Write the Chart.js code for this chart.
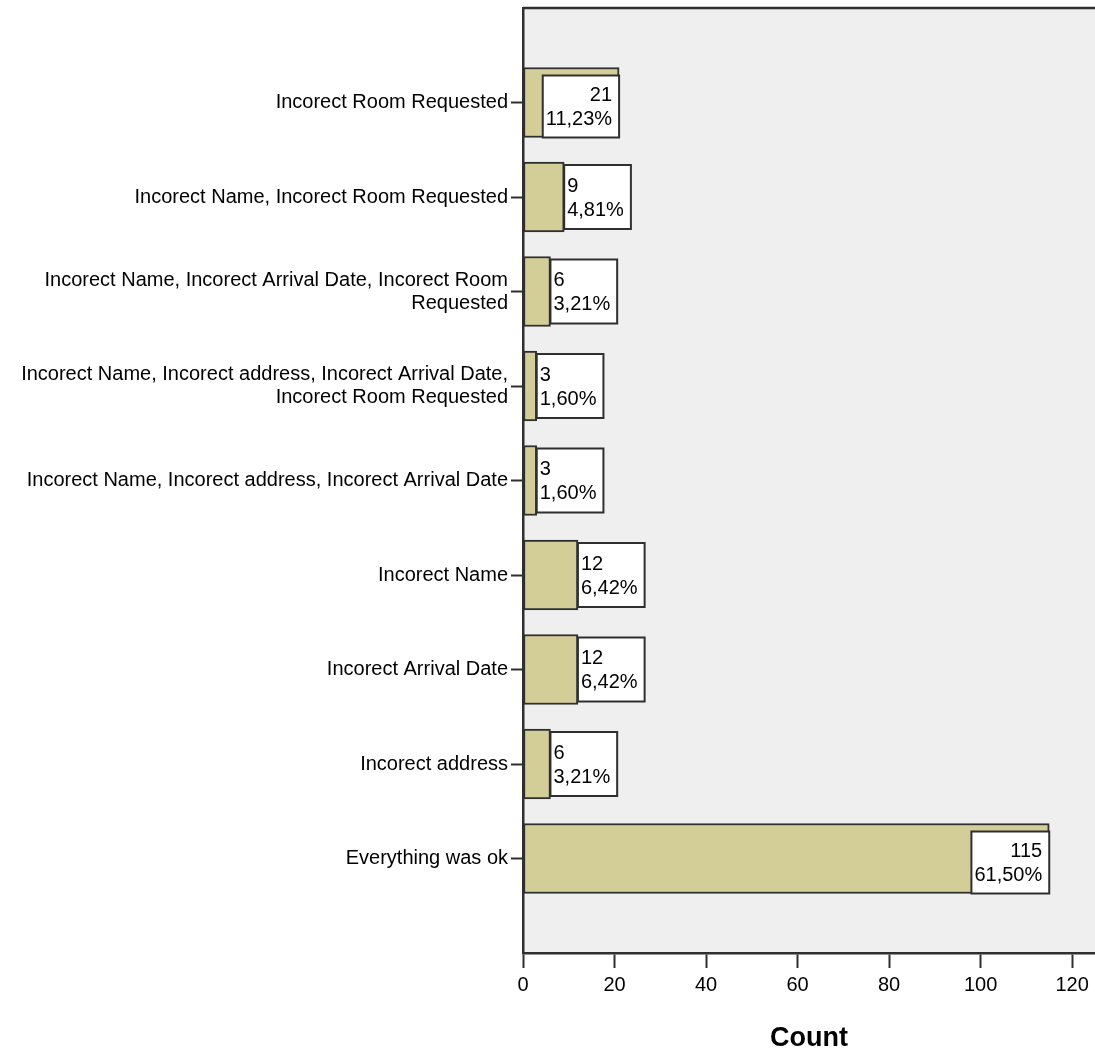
<!DOCTYPE html>
<html>
<head>
<meta charset="utf-8">
<script src="https://cdn.jsdelivr.net/npm/chart.js@4.4.1/dist/chart.umd.min.js"></script>
<style>
  html, body { margin: 0; padding: 0; background: #fff; }
</style>
</head>
<body>
<canvas id="chart" width="1095" height="1051"></canvas>
<script>
// categories top -> bottom
const categories = [
    "Incorect Room Requested",
    "Incorect Name, Incorect Room Requested",
    ["Incorect Name, Incorect Arrival Date, Incorect Room", "Requested"],
    ["Incorect Name, Incorect address, Incorect Arrival Date,", "Incorect Room Requested"],
    "Incorect Name, Incorect address, Incorect Arrival Date",
    "Incorect Name",
    "Incorect Arrival Date",
    "Incorect address",
    "Everything was ok"
];
const counts = [21, 9, 6, 3, 3, 12, 12, 6, 115];
const percents = ["11,23%", "4,81%", "3,21%", "1,60%", "1,60%", "6,42%", "6,42%", "3,21%", "61,50%"];
const xTicks = [0, 20, 40, 60, 80, 100, 120];

// narrow font if there is one, otherwise plain sans at smaller size
const hasFont = (name) => {
    const c = document.createElement("canvas").getContext("2d");
    const s = "Incorect Room Requested 0123";
    c.font = "40px monospace";
    const a = c.measureText(s).width;
    c.font = "40px '" + name + "', monospace";
    return Math.abs(c.measureText(s).width - a) > 1;
};
const narrow = hasFont("Liberation Sans Narrow");
const family = narrow ? "'Liberation Sans Narrow', 'Liberation Sans', Arial, sans-serif" : "'Liberation Sans', Arial, sans-serif";
const fs = narrow ? 24 : 20;
const titleSize = narrow ? 32 : 27;

const frame = "#2f2f2f";

const plotBg = {
    id: "plotBg",
    beforeDraw(chart) {
        const { ctx, chartArea: a } = chart;
        ctx.save();
        ctx.fillStyle = "#efefef";
        ctx.fillRect(a.left, a.top, a.right - a.left, a.bottom - a.top);
        ctx.strokeStyle = frame;
        ctx.lineWidth = 2.5;
        ctx.beginPath();
        ctx.moveTo(a.left, a.top);
        ctx.lineTo(a.right, a.top);
        ctx.stroke();
        ctx.restore();
    }
};

const boxLabels = {
    id: "boxLabels",
    afterDatasetsDraw(chart) {
        const ctx = chart.ctx;
        const meta = chart.getDatasetMeta(0);
        ctx.save();
        ctx.font = fs + "px " + family;
        ctx.textBaseline = "middle";
        meta.data.forEach((bar, i) => {
            const lines = [String(counts[i]), percents[i]];
            const tw = Math.max(...lines.map(t => ctx.measureText(t).width));
            const bw = tw + 10;
            const len = bar.x - bar.base;
            const h = bar.height;
            let left, top, bottom, tx, align;
            if (len > bw + 4) {
                left = bar.x - bw;
                top = bar.y - h / 2 + 8;
                bottom = bar.y + h / 2;
                tx = bar.x - 7;
                align = "right";
            } else {
                left = bar.x;
                top = bar.y - h / 2 + 3;
                bottom = bar.y + h / 2 - 3;
                tx = left + 3;
                align = "left";
            }
            ctx.fillStyle = "#fff";
            ctx.fillRect(left, top, bw, bottom - top);
            ctx.strokeStyle = frame;
            ctx.lineWidth = 2;
            ctx.strokeRect(left, top, bw, bottom - top);
            const cy = (top + bottom) / 2;
            ctx.fillStyle = "#000";
            ctx.textAlign = align;
            ctx.fillText(lines[0], tx, cy - 11);
            ctx.fillText(lines[1], tx, cy + 13);
        });
        ctx.restore();
    }
};

new Chart(document.getElementById("chart"), {
    type: "bar",
    data: {
        labels: categories,
        datasets: [{
            data: counts,
            backgroundColor: "#d3cd98",
            borderColor: frame,
            borderWidth: 2,
            borderSkipped: false,
            barThickness: 70
        }]
    },
    options: {
        indexAxis: "y",
        responsive: false,
        animation: false,
        layout: { padding: { top: 8, right: 0, bottom: 0, left: 0 } },
        plugins: {
            legend: { display: false },
            tooltip: { enabled: false }
        },
        scales: {
            x: {
                type: "linear",
                min: 0,
                max: 125,
                afterBuildTicks: (axis) => {
                    axis.ticks = xTicks.map(v => ({ value: v }));
                },
                ticks: {
                    color: "#000",
                    font: { family: family, size: fs },
                    padding: 5,
                    includeBounds: false
                },
                grid: {
                    drawOnChartArea: false,
                    tickLength: 15,
                    tickWidth: 2,
                    tickColor: frame
                },
                border: { color: frame, width: 2.5 },
                title: {
                    display: true,
                    text: "Count",
                    color: "#000",
                    font: { family: family, size: titleSize, weight: "bold", lineHeight: 0.85 },
                    padding: { top: 0, bottom: 1 }
                },
                afterFit: (axis) => {
                    axis.height = 98;
                    axis.paddingLeft = 0;
                    axis.paddingRight = 0;
                }
            },
            y: {
                ticks: {
                    color: "#000",
                    font: { family: family, size: fs, lineHeight: 1.15 },
                    padding: 3,
                    autoSkip: false
                },
                grid: {
                    offset: false,
                    drawOnChartArea: false,
                    tickLength: 12,
                    tickWidth: 2,
                    tickColor: frame
                },
                border: { color: frame, width: 2.5 },
                afterFit: (axis) => {
                    axis.width = 523;
                    axis.paddingTop = 0;
                    axis.paddingBottom = 0;
                },
                // a full empty slot above the first and below the last bar
                afterBuildTicks: (axis) => {
                    axis._startValue = -1;
                    axis._valueRange = categories.length + 1;
                }
            }
        }
    },
    plugins: [plotBg, boxLabels]
});
</script>
</body>
</html>
